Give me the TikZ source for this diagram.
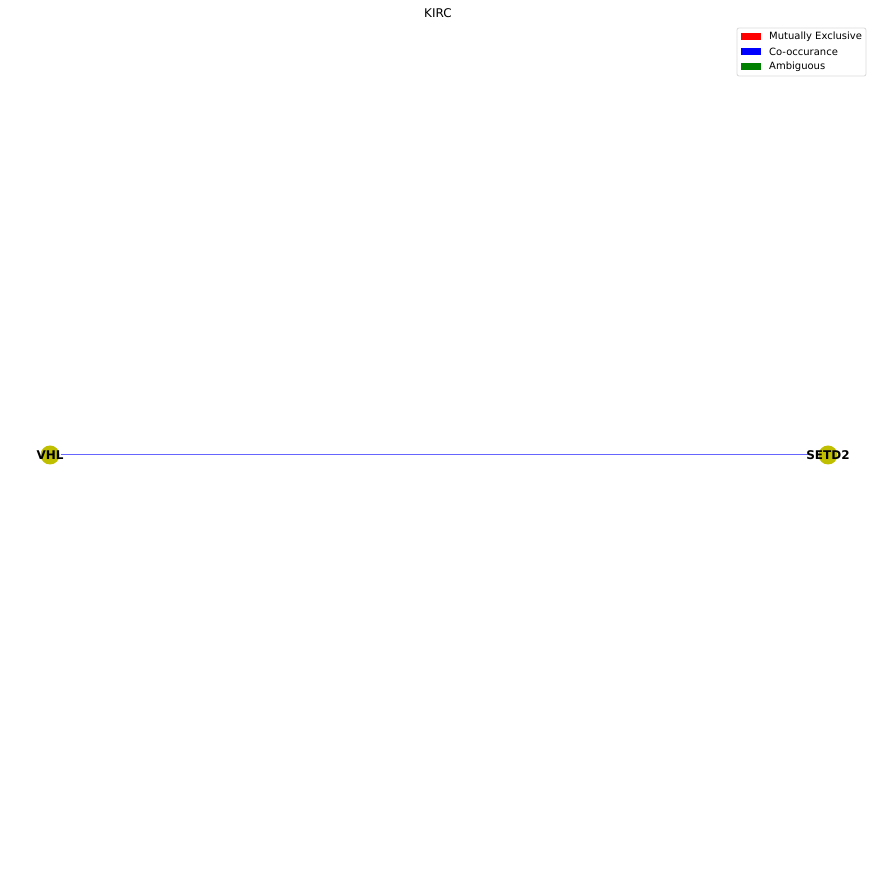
\documentclass[tikz,border=0pt]{standalone}
\usepackage{fontspec}
\setmainfont{DejaVu Sans}
\definecolor{nodey}{rgb}{0.75,0.75,0}
\definecolor{edgeb}{rgb}{0.4,0.4,1}
\definecolor{leggreen}{rgb}{0,0.5,0}
\begin{document}
\begin{tikzpicture}[x=1pt,y=1pt,
  gene/.style={circle,fill=nodey,draw=none,minimum size=19pt,inner sep=0pt},
  glabel/.style={font=\fontsize{12}{14}\selectfont\bfseries,inner sep=0pt},
  edgeline/.style={draw=edgeb,line width=1pt},
  patch/.style={minimum width=20pt,minimum height=7pt,inner sep=0pt,draw=none},
  legtext/.style={font=\fontsize{10}{12}\selectfont,anchor=west,inner sep=0pt}]
\useasboundingbox (0,0) rectangle (878,894);
\node[gene] (vhl) at (50,439) {};
\node[gene] (setd2) at (828,439) {};
\draw[edgeline,shorten <=1pt,shorten >=10pt] (vhl.east) -- (setd2.west);
\node[glabel] (lvhl) at (50,439) {VHL};
\node[glabel] (lsetd2) at (828,439) {SETD2};
\node[font=\fontsize{12}{14}\selectfont,inner sep=0pt] (title) at (438,881) {KIRC};
\node[draw=black!15,rounded corners=2pt,line width=0.8pt,minimum width=129pt,minimum height=48pt,inner sep=0pt] (legend) at (801.5,842) {};
\node[patch,fill=red] (p1) at (751,857.5) {};
\node[patch,fill=blue] (p2) at (751,842.5) {};
\node[patch,fill=leggreen] (p3) at (751,827.5) {};
\node[legtext] (t1) at (769,857.5) {Mutually Exclusive};
\node[legtext] (t2) at (769,842.5) {Co-occurance};
\node[legtext] (t3) at (769,827.5) {Ambiguous};
\end{tikzpicture}
\end{document}
